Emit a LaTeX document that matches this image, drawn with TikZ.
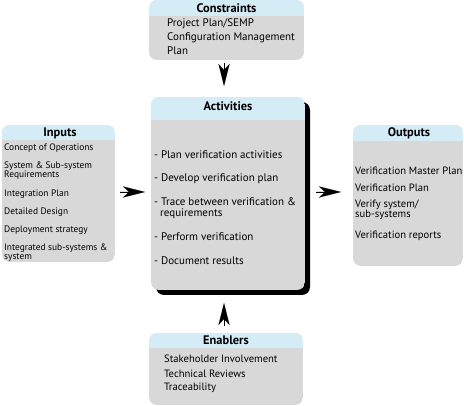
\documentclass[tikz,border=0pt]{standalone}
\usepackage{fontspec}
\setmainfont{PT Sans}
\usetikzlibrary{arrows.meta,positioning}
\definecolor{hdr}{RGB}{212,236,246}
\definecolor{bdy}{RGB}{217,216,217}
\tikzset{
  x=1pt,y=-1pt,
  panel/.style={fill=bdy,rounded corners=8pt},
  headtxt/.style={font=\fontsize{12.4}{13}\selectfont\bfseries,anchor=center},
  itemtxt/.style={font=\fontsize{11}{12}\selectfont,anchor=west,align=left,inner sep=0pt},
  midtxt/.style={font=\fontsize{10.6}{11}\selectfont,anchor=west,align=left,inner sep=0pt},
  smalltxt/.style={font=\fontsize{9.4}{10}\selectfont,anchor=west,align=left,inner sep=0pt},
  flow/.style={-{Stealth[length=22pt,width=11pt,inset=6pt]},line width=0.1pt,draw=black,fill=black}
}
\begin{document}
\begin{tikzpicture}
\useasboundingbox (0,0) rectangle (464,406);
% Constraints
\node[inner sep=0pt,minimum width=155pt,minimum height=60pt] (con) at (226.5,30) {};
\begin{scope}
\clip[rounded corners=8pt] (149,0) rectangle (304,60);
\fill[bdy] (149,0) rectangle (304,60);
\fill[hdr] (149,0) rectangle (304,16);
\end{scope}
\node[headtxt] (conh) at (226.5,8) {Constraints};
\node[itemtxt] (con1) at (167,24) {Project Plan/SEMP};
\node[itemtxt] (con2) at (167,37.5) {Configuration Management};
\node[itemtxt] (con3) at (167,51) {Plan};
% Activities
\node[inner sep=0pt,minimum width=154pt,minimum height=193pt] (act) at (228,193.5) {};
\fill[black,rounded corners=8pt] (156,102) rectangle (310,295);
\begin{scope}
\clip[rounded corners=8pt] (151,97) rectangle (305,290);
\fill[bdy] (151,97) rectangle (305,290);
\fill[hdr] (151,97) rectangle (305,120);
\end{scope}
\node[headtxt] (acth) at (228,106.5) {Activities};
\node[itemtxt] (a1) at (154,155) {- Plan verification activities};
\node[itemtxt] (a2) at (154,178.5) {- Develop verification plan};
\node[itemtxt] (a3) at (154,202) {- Trace between verification \&};
\node[itemtxt] (a3b) at (160,213.5) {requirements};
\node[itemtxt] (a4) at (154,237) {- Perform verification};
\node[itemtxt] (a5) at (154,260.5) {- Document results};
% Inputs
\node[inner sep=0pt,minimum width=113pt,minimum height=137pt] (inp) at (58.5,193.5) {};
\begin{scope}
\clip[rounded corners=8pt] (2,125) rectangle (115,262);
\fill[bdy] (2,125) rectangle (115,262);
\fill[hdr] (2,125) rectangle (115,140);
\end{scope}
\node[headtxt] (inph) at (60,133) {Inputs};
\node[smalltxt] (i1) at (4,148) {Concept of Operations};
\node[smalltxt] (i2) at (4,166.5) {System \& Sub-system};
\node[smalltxt] (i2b) at (4,175.5) {Requirements};
\node[smalltxt] (i3) at (4,194) {Integration Plan};
\node[smalltxt] (i4) at (4,212) {Detailed Design};
\node[smalltxt] (i5) at (4,230) {Deployment strategy};
\node[smalltxt] (i6) at (4,248.5) {Integrated sub-systems \&};
\node[smalltxt] (i6b) at (4,258) {system};
% Outputs
\node[inner sep=0pt,minimum width=110pt,minimum height=142pt] (out) at (408,196) {};
\begin{scope}
\clip[rounded corners=8pt] (353,125) rectangle (463,266);
\fill[bdy] (353,125) rectangle (463,266);
\fill[hdr] (353,125) rectangle (463,141);
\end{scope}
\node[headtxt] (outh) at (409,133) {Outputs};
\node[midtxt] (o1) at (355,170.5) {Verification Master Plan};
\node[midtxt] (o2) at (355,188) {Verification Plan};
\node[midtxt] (o3) at (355,205) {Verify system/};
\node[midtxt] (o3b) at (355,214.5) {sub-systems};
\node[midtxt] (o4) at (355,236) {Verification reports};
% Enablers
\node[inner sep=0pt,minimum width=154pt,minimum height=72pt] (ena) at (226,369) {};
\begin{scope}
\clip[rounded corners=8pt] (149,333) rectangle (303,405);
\fill[bdy] (149,333) rectangle (303,405);
\fill[hdr] (149,333) rectangle (303,348);
\end{scope}
\node[headtxt] (enah) at (226,340.5) {Enablers};
\node[midtxt] (e1) at (164,359) {Stakeholder Involvement};
\node[midtxt] (e2) at (164,373.5) {Technical Reviews};
\node[midtxt] (e3) at (164,388) {Traceability};
% Arrows
\coordinate (cd1) at (224,63);
\coordinate (cd2) at (224,86);
\draw[flow] (cd1) -- (cd2);
\coordinate (ed1) at (224,326);
\coordinate (ed2) at (224,303);
\draw[flow] (ed1) -- (ed2);
\coordinate (il1) at (120,192);
\coordinate (il2) at (145,192);
\draw[flow] (il1) -- (il2);
\coordinate (ol1) at (316,192);
\coordinate (ol2) at (341,192);
\draw[flow] (ol1) -- (ol2);
\end{tikzpicture}
\end{document}
